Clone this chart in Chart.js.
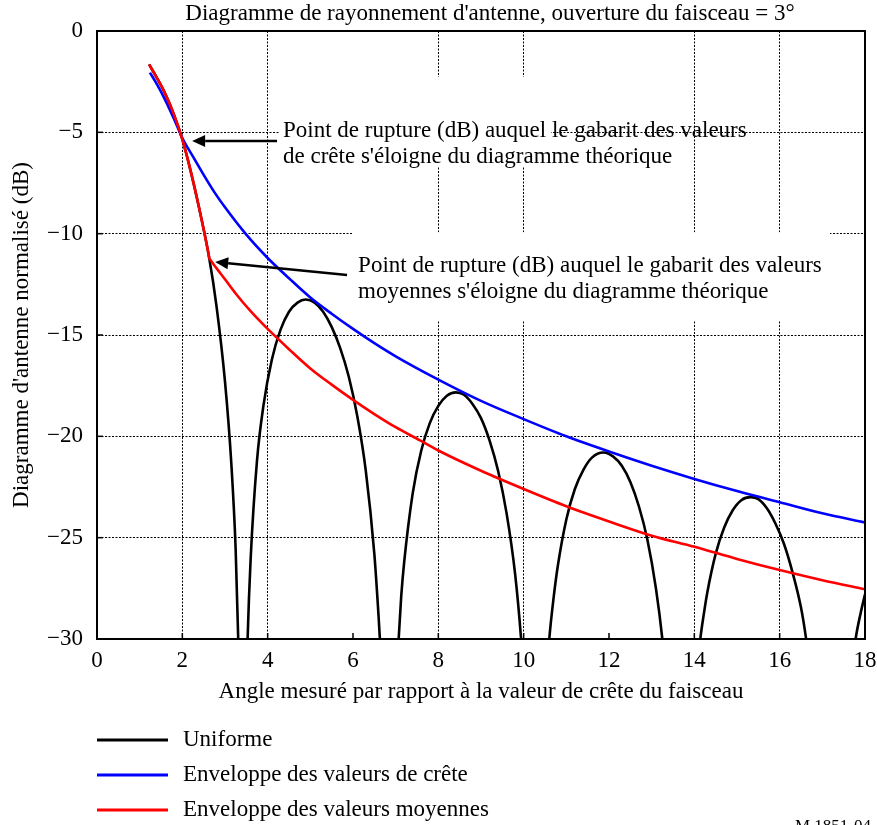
<!DOCTYPE html>
<html>
<head>
<meta charset="utf-8">
<script src="https://cdn.jsdelivr.net/npm/chart.js@4.4.1/dist/chart.umd.min.js"></script>
<style>
  html, body { margin: 0; padding: 0; background: #fff; }
</style>
</head>
<body>
<canvas id="antenne" width="877" height="825"></canvas>
<script>
// angles in degrees, gains in dB
const angleUniforme = [1.22, 1.4, 1.6, 1.8, 2.0, 2.2, 2.4, 2.63, 2.8, 3.0, 3.15, 3.25, 3.31, 3.42, 3.53, 3.6, 3.75, 3.9, 4.1, 4.3, 4.5, 4.7, 4.89, 5.1, 5.3, 5.5, 5.7, 5.9, 6.1, 6.3, 6.5, 6.6, 6.63, 6.84,
  7.07, 7.13, 7.2, 7.4, 7.6, 7.8, 8.0, 8.2, 8.41, 8.6, 8.8, 9.0, 9.2, 9.4, 9.6, 9.8, 9.94, 10.26,
  10.6, 10.7, 10.8, 11.0, 11.2, 11.4, 11.6, 11.87, 12.1, 12.3, 12.5, 12.7, 12.9, 13.1, 13.25, 13.68,
  14.14, 14.22, 14.3, 14.5, 14.7, 14.9, 15.1, 15.32, 15.5, 15.7, 15.9, 16.1, 16.3, 16.5, 16.62, 17.2,
  17.78, 17.9, 18.0];
const gainUniforme = [-1.65, -2.3, -3.1, -4.1, -5.35, -6.95, -8.8, -11.2, -13.56, -17.3, -21.4, -25.6, -30, -40, -30, -26.1, -21.2, -18.5, -16.2, -14.75, -13.85, -13.4, -13.25, -13.4, -13.85, -14.6, -15.65, -17.05, -19.0, -21.7, -25.8, -28.9, -30, -40,
  -30, -27.9, -26.2, -22.8, -20.7, -19.35, -18.5, -18.0, -17.83, -17.95, -18.4, -19.1, -20.2, -21.7, -23.8, -26.8, -30, -40,
  -30, -28.0, -26.4, -24.1, -22.6, -21.65, -21.05, -20.8, -21.0, -21.45, -22.25, -23.45, -25.1, -27.5, -30, -40,
  -30, -28.8, -27.75, -25.8, -24.5, -23.65, -23.15, -23.0, -23.1, -23.55, -24.3, -25.3, -26.7, -28.45, -30, -40,
  -30, -28.7, -27.8];

const angleCrete = [1.24, 1.4, 1.6, 1.8, 2.0, 2.25, 2.5, 2.75, 3.0, 3.5, 4.0, 4.5, 5.0, 5.5, 6.0, 6.5, 7.0, 8.0, 9.0, 10.0, 11.0, 12.0, 13.0, 14.0, 15.0, 16.0, 17.0, 18.0];
const gainCrete = [-2.05, -2.61, -3.41, -4.32, -5.28, -6.2, -7.1, -7.95, -8.7, -10.05, -11.2, -12.2, -13.15, -13.95, -14.7, -15.4, -16.05, -17.2, -18.25, -19.15, -20.0, -20.75, -21.45, -22.1, -22.7, -23.25, -23.8, -24.25];

const angleMoyenne = [1.22, 1.4, 1.6, 1.8, 2.0, 2.2, 2.4, 2.61, 2.63, 2.65, 2.8, 3.0, 3.25, 3.59, 4.0, 4.5, 5.0, 5.5, 6.0, 6.5, 7.0, 7.57, 8.0, 9.0, 10.0, 11.0, 12.0, 13.0, 14.0, 15.0, 16.0, 17.0, 18.0];
const gainMoyenne = [-1.65, -2.3, -3.1, -4.1, -5.35, -6.95, -8.8, -10.95, -11.2, -11.27, -11.7, -12.25, -12.95, -13.8, -14.7, -15.7, -16.65, -17.45, -18.2, -18.9, -19.55, -20.2, -20.7, -21.7, -22.6, -23.45, -24.2, -24.9, -25.45, -26.05, -26.6, -27.1, -27.55];

const xTicks = [0, 2, 4, 6, 8, 10, 12, 14, 16, 18];
const yTicks = [0, -5, -10, -15, -20, -25, -30];
const gridX = [2, 4, 8, 10, 14, 16];
const gridY = [-5, -10, -15, -20, -25];

const serif = "'Liberation Serif', 'Times New Roman', serif";
Chart.defaults.font.family = serif;
Chart.defaults.font.size = 23;
Chart.defaults.color = "#000";

function pts(xs, ys) {
  return xs.map((x, i) => ({ x: x, y: ys[i] }));
}

function arrow(ctx, x1, y1, x2, y2) {
  // shaft from (x1,y1), head at (x2,y2)
  const a = Math.atan2(y2 - y1, x2 - x1);
  const len = 13, half = 6;
  const bx = x2 - len * Math.cos(a), by = y2 - len * Math.sin(a);
  ctx.beginPath();
  ctx.moveTo(x1, y1);
  ctx.lineTo(bx, by);
  ctx.stroke();
  ctx.beginPath();
  ctx.moveTo(x2, y2);
  ctx.lineTo(bx + half * Math.sin(a), by - half * Math.cos(a));
  ctx.lineTo(bx - half * Math.sin(a), by + half * Math.cos(a));
  ctx.closePath();
  ctx.fill();
}

const decor = {
  id: "decor",
  beforeDatasetsDraw(chart) {
    const ctx = chart.ctx, xs = chart.scales.x, ys = chart.scales.y;
    const box = (x1, x2, y1, y2) => {
      const px = xs.getPixelForValue(x1), py = ys.getPixelForValue(y1);
      ctx.fillRect(px, py, xs.getPixelForValue(x2) - px, ys.getPixelForValue(y2) - py);
    };
    // white boxes behind the two notes hide the grid
    ctx.save();
    ctx.fillStyle = "#fff";
    box(4.29, 10.64, -2.27, -6.66);
    box(5.98, 17.18, -9.93, -14.26);
    ctx.restore();
  },
  afterDraw(chart) {
    const ctx = chart.ctx, xs = chart.scales.x, ys = chart.scales.y;
    const a = chart.chartArea;
    const X = v => xs.getPixelForValue(v), Y = v => ys.getPixelForValue(v);
    ctx.save();
    ctx.strokeStyle = "#000";
    ctx.fillStyle = "#000";

    // frame
    ctx.lineWidth = 2;
    ctx.strokeRect(a.left, a.top, a.right - a.left, a.bottom - a.top);

    // small ticks pointing inward
    ctx.lineWidth = 1.5;
    xTicks.slice(1, -1).forEach(v => {
      ctx.beginPath(); ctx.moveTo(X(v), a.bottom); ctx.lineTo(X(v), a.bottom - 6); ctx.stroke();
    });
    yTicks.slice(1, -1).forEach(v => {
      ctx.beginPath(); ctx.moveTo(a.left, Y(v)); ctx.lineTo(a.left + 6, Y(v)); ctx.stroke();
    });

    // arrows
    ctx.lineWidth = 2.5;
    arrow(ctx, X(4.22), Y(-5.43), X(2.23), Y(-5.43));
    arrow(ctx, X(5.86), Y(-12.04), X(2.77), Y(-11.4));

    // notes
    ctx.font = "23px " + serif;
    ctx.textAlign = "left";
    ctx.textBaseline = "middle";
    ctx.fillText("Point de rupture (dB) auquel le gabarit des valeurs", X(4.36), Y(-4.93));
    ctx.fillText("de crête s'éloigne du diagramme théorique", X(4.36), Y(-6.22));
    ctx.fillText("Point de rupture (dB) auquel le gabarit des valeurs", X(6.12), Y(-11.6));
    ctx.fillText("moyennes s'éloigne du diagramme théorique", X(6.12), Y(-12.88));

    // title
    ctx.textAlign = "center";
    ctx.fillText("Diagramme de rayonnement d'antenne, ouverture du faisceau = 3°", 490, a.top - 17);

    // legend
    const legend = [
      ["Uniforme", "#000"],
      ["Enveloppe des valeurs de crête", "#0000ff"],
      ["Enveloppe des valeurs moyennes", "#ff0000"]
    ];
    ctx.textAlign = "left";
    legend.forEach((it, i) => {
      const y = 740 + i * 35;
      ctx.strokeStyle = it[1];
      ctx.lineWidth = 3;
      ctx.beginPath(); ctx.moveTo(a.left, y); ctx.lineTo(a.left + 71, y); ctx.stroke();
      ctx.fillText(it[0], a.left + 86, y);
    });

    // figure reference, cut by the bottom edge
    ctx.font = "17px " + serif;
    ctx.textBaseline = "top";
    ctx.fillText("M.1851-04", 795, 818);
    ctx.restore();
  }
};

const ctx = document.getElementById("antenne").getContext("2d");
new Chart(ctx, {
  type: "line",
  data: {
    datasets: [
      { label: "Uniforme", data: pts(angleUniforme, gainUniforme), borderColor: "#000", order: 3 },
      { label: "Enveloppe des valeurs de crête", data: pts(angleCrete, gainCrete), borderColor: "#0000ff", order: 2 },
      { label: "Enveloppe des valeurs moyennes", data: pts(angleMoyenne, gainMoyenne), borderColor: "#ff0000", order: 1 }
    ]
  },
  options: {
    responsive: false,
    animation: false,
    layout: { padding: { top: 31, right: 12, left: 0, bottom: 0 } },
    elements: {
      point: { radius: 0 },
      line: { borderWidth: 2.6, cubicInterpolationMode: "monotone", capBezierPoints: false, fill: false }
    },
    plugins: {
      legend: { display: false },
      tooltip: { enabled: false },
      title: { display: false }
    },
    scales: {
      x: {
        type: "linear",
        min: 0,
        max: 18,
        afterBuildTicks: s => { s.ticks = xTicks.map(v => ({ value: v })); },
        afterFit: s => { s.height = 186; s.paddingLeft = 0; s.paddingRight = 0; },
        ticks: { padding: 8, maxRotation: 0, autoSkip: false },
        grid: {
          color: c => (c.tick && gridX.includes(c.tick.value)) ? "#000" : "rgba(0,0,0,0)",
          lineWidth: 1,
          drawTicks: false
        },
        border: { display: true, color: "#000", width: 2, dash: [2, 1.5] },
        title: {
          display: true,
          text: "Angle mesuré par rapport à la valeur de crête du faisceau",
          padding: { top: 0, bottom: 119 }
        }
      },
      y: {
        type: "linear",
        min: -30,
        max: 0,
        afterBuildTicks: s => { s.ticks = yTicks.map(v => ({ value: v })); },
        afterFit: s => { s.width = 97; s.paddingTop = 0; s.paddingBottom = 0; },
        ticks: {
          padding: 14,
          callback: v => v < 0 ? "\u2212" + Math.abs(v) : String(v)
        },
        grid: {
          color: c => (c.tick && gridY.includes(c.tick.value)) ? "#000" : "rgba(0,0,0,0)",
          lineWidth: 1,
          drawTicks: false
        },
        border: { display: true, color: "#000", width: 2, dash: [2, 1.5] },
        title: {
          display: true,
          text: "Diagramme d'antenne normalisé (dB)",
          padding: { top: 8, bottom: 0 }
        }
      }
    }
  },
  plugins: [decor]
});
</script>
</body>
</html>
